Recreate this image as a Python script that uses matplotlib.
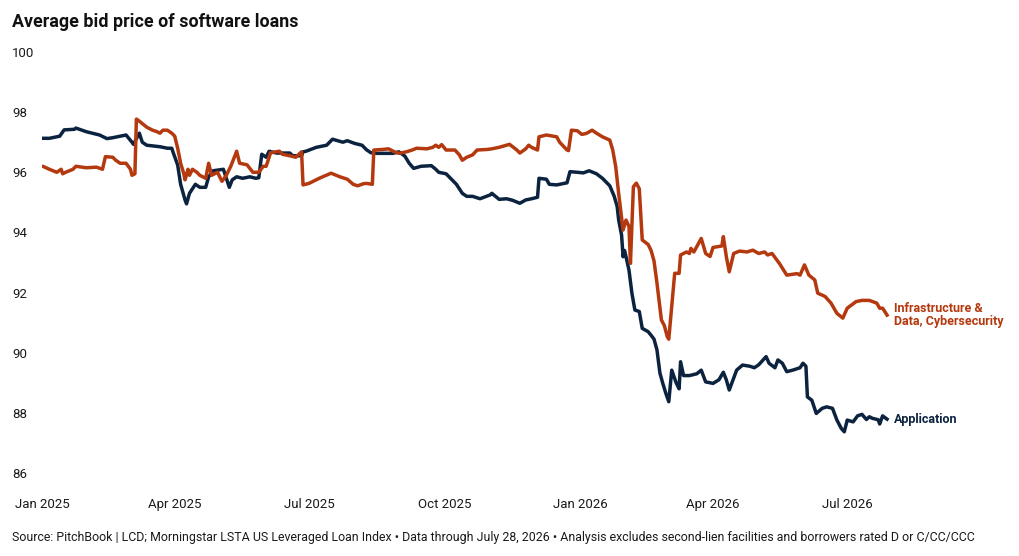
import matplotlib
matplotlib.use("Agg")
import matplotlib.pyplot as plt
import pandas as pd

# ===================
# DATA
# ===================
APP_DATES = [
    "2025-01-02", "2025-01-06", "2025-01-13", "2025-01-16", "2025-01-23", "2025-01-24", "2025-01-31",
    "2025-02-09", "2025-02-14", "2025-02-18", "2025-02-27", "2025-03-03", "2025-03-04", "2025-03-08",
    "2025-03-10", "2025-03-13", "2025-03-22", "2025-03-27", "2025-03-30", "2025-03-31", "2025-04-03",
    "2025-04-05", "2025-04-08", "2025-04-09", "2025-04-11", "2025-04-15", "2025-04-18", "2025-04-22",
    "2025-04-24", "2025-04-27", "2025-05-04", "2025-05-08", "2025-05-10", "2025-05-13", "2025-05-17",
    "2025-05-22", "2025-05-26", "2025-05-28", "2025-05-30", "2025-06-02", "2025-06-04", "2025-06-09",
    "2025-06-18", "2025-06-20", "2025-06-26", "2025-06-27", "2025-06-29", "2025-07-06", "2025-07-13",
    "2025-07-17", "2025-07-24", "2025-07-27", "2025-08-01", "2025-08-06", "2025-08-09", "2025-08-12",
    "2025-08-16", "2025-08-27", "2025-08-31", "2025-09-04", "2025-09-07", "2025-09-10", "2025-09-15",
    "2025-09-22", "2025-09-25", "2025-09-27", "2025-10-02", "2025-10-06", "2025-10-09", "2025-10-13",
    "2025-10-16", "2025-10-20", "2025-10-25", "2025-11-01", "2025-11-02", "2025-11-07", "2025-11-12",
    "2025-11-16", "2025-11-21", "2025-11-25", "2025-11-29", "2025-12-03", "2025-12-04", "2025-12-09",
    "2025-12-11", "2025-12-16", "2025-12-20", "2025-12-23", "2025-12-25", "2025-12-30", "2026-01-03",
    "2026-01-07", "2026-01-12", "2026-01-16", "2026-01-21", "2026-01-24", "2026-01-26", "2026-01-27",
    "2026-01-29", "2026-01-30", "2026-01-31", "2026-02-01", "2026-02-03", "2026-02-05", "2026-02-07",
    "2026-02-10", "2026-02-12", "2026-02-16", "2026-02-18", "2026-02-20", "2026-02-22", "2026-02-24",
    "2026-02-26", "2026-02-28", "2026-03-02", "2026-03-04", "2026-03-07", "2026-03-09", "2026-03-10",
    "2026-03-12", "2026-03-16", "2026-03-21", "2026-03-24", "2026-03-27", "2026-04-01", "2026-04-05",
    "2026-04-08", "2026-04-10", "2026-04-12", "2026-04-17", "2026-04-21", "2026-04-26", "2026-04-29",
    "2026-05-02", "2026-05-07", "2026-05-09", "2026-05-13", "2026-05-15", "2026-05-18", "2026-05-21",
    "2026-05-25", "2026-05-30", "2026-06-01", "2026-06-03", "2026-06-04", "2026-06-07", "2026-06-10",
    "2026-06-14", "2026-06-17", "2026-06-21", "2026-06-24", "2026-06-27", "2026-06-29", "2026-07-01",
    "2026-07-05", "2026-07-08", "2026-07-11", "2026-07-14", "2026-07-16", "2026-07-18", "2026-07-22",
    "2026-07-23", "2026-07-25", "2026-07-28",
]
APP_VALUES = [
    97.13, 97.13, 97.20, 97.41, 97.43, 97.47, 97.35,
    97.24, 97.12, 97.15, 97.24, 97.00, 96.93, 97.30,
    97.00, 96.90, 96.85, 96.80, 96.80, 96.65, 96.24,
    95.60, 95.08, 94.95, 95.30, 95.60, 95.50, 95.50,
    95.85, 96.05, 96.10, 95.50, 95.75, 95.85, 95.80,
    95.85, 95.80, 95.82, 96.60, 96.50, 96.70, 96.64,
    96.64, 96.55, 96.55, 96.68, 96.70, 96.83, 96.90,
    97.10, 97.00, 97.05, 96.96, 96.90, 96.75, 96.65,
    96.63, 96.63, 96.68, 96.54, 96.30, 96.13, 96.20,
    96.22, 96.10, 96.00, 95.95, 95.75, 95.60, 95.30,
    95.20, 95.20, 95.12, 95.25, 95.30, 95.10, 95.12,
    95.07, 94.97, 95.08, 95.12, 95.17, 95.80, 95.77,
    95.60, 95.58, 95.62, 95.65, 96.02, 96.00, 95.98,
    96.05, 95.95, 95.80, 95.55, 95.20, 94.86, 94.42,
    93.91, 93.19, 93.40, 93.19, 92.75, 91.98, 91.42,
    91.37, 90.81, 90.70, 90.58, 90.45, 90.09, 89.32,
    88.97, 88.65, 88.37, 89.42, 89.00, 88.80, 89.70,
    89.24, 89.24, 89.30, 89.42, 89.03, 88.98, 89.10,
    89.35, 89.10, 88.76, 89.42, 89.59, 89.55, 89.50,
    89.60, 89.87, 89.65, 89.50, 89.76, 89.65, 89.37,
    89.42, 89.50, 89.65, 89.55, 88.53, 88.42, 87.98,
    88.15, 88.20, 88.15, 87.76, 87.48, 87.37, 87.76,
    87.70, 87.90, 87.95, 87.78, 87.87, 87.82, 87.77,
    87.63, 87.90, 87.79,
]

INFRA_DATES = [
    "2025-01-02", "2025-01-06", "2025-01-11", "2025-01-14", "2025-01-15", "2025-01-17", "2025-01-22",
    "2025-01-24", "2025-01-31", "2025-02-07", "2025-02-11", "2025-02-13", "2025-02-18", "2025-02-20",
    "2025-02-23", "2025-02-27", "2025-03-02", "2025-03-03", "2025-03-05", "2025-03-06", "2025-03-08",
    "2025-03-13", "2025-03-17", "2025-03-20", "2025-03-22", "2025-03-24", "2025-03-27", "2025-03-30",
    "2025-04-01", "2025-04-03", "2025-04-05", "2025-04-07", "2025-04-08", "2025-04-10", "2025-04-11",
    "2025-04-13", "2025-04-16", "2025-04-18", "2025-04-22", "2025-04-24", "2025-04-26", "2025-04-30",
    "2025-05-03", "2025-05-06", "2025-05-09", "2025-05-13", "2025-05-15", "2025-05-20", "2025-05-24",
    "2025-05-28", "2025-05-31", "2025-06-02", "2025-06-05", "2025-06-11", "2025-06-13", "2025-06-18",
    "2025-06-22", "2025-06-26", "2025-06-27", "2025-07-01", "2025-07-08", "2025-07-16", "2025-07-22",
    "2025-07-27", "2025-07-31", "2025-08-03", "2025-08-07", "2025-08-09", "2025-08-13", "2025-08-14",
    "2025-08-20", "2025-08-24", "2025-08-28", "2025-08-31", "2025-09-05", "2025-09-09", "2025-09-12",
    "2025-09-19", "2025-09-23", "2025-09-25", "2025-09-27", "2025-09-29", "2025-10-02", "2025-10-08",
    "2025-10-11", "2025-10-13", "2025-10-16", "2025-10-20", "2025-10-23", "2025-10-30", "2025-11-02",
    "2025-11-07", "2025-11-14", "2025-11-19", "2025-11-21", "2025-11-25", "2025-11-27", "2025-11-29",
    "2025-12-03", "2025-12-04", "2025-12-09", "2025-12-16", "2025-12-18", "2025-12-23", "2025-12-24",
    "2025-12-26", "2025-12-30", "2026-01-02", "2026-01-05", "2026-01-09", "2026-01-12", "2026-01-16",
    "2026-01-21", "2026-01-23", "2026-01-25", "2026-01-27", "2026-01-30", "2026-02-01", "2026-02-03",
    "2026-02-04", "2026-02-06", "2026-02-08", "2026-02-10", "2026-02-12", "2026-02-16", "2026-02-18",
    "2026-02-20", "2026-02-22", "2026-02-25", "2026-02-27", "2026-03-01", "2026-03-02", "2026-03-04",
    "2026-03-06", "2026-03-09", "2026-03-10", "2026-03-14", "2026-03-16", "2026-03-17", "2026-03-19",
    "2026-03-24", "2026-03-27", "2026-03-30", "2026-04-01", "2026-04-07", "2026-04-08", "2026-04-10",
    "2026-04-12", "2026-04-15", "2026-04-19", "2026-04-24", "2026-04-28", "2026-05-02", "2026-05-06",
    "2026-05-08", "2026-05-11", "2026-05-16", "2026-05-21", "2026-05-28", "2026-05-30", "2026-06-02",
    "2026-06-05", "2026-06-09", "2026-06-11", "2026-06-16", "2026-06-20", "2026-06-24", "2026-06-28",
    "2026-07-01", "2026-07-07", "2026-07-11", "2026-07-16", "2026-07-21", "2026-07-23", "2026-07-25",
    "2026-07-28",
]
INFRA_VALUES = [
    96.19, 96.10, 96.00, 96.10, 95.95, 96.00, 96.10,
    96.20, 96.15, 96.17, 96.10, 96.52, 96.50, 96.40,
    96.30, 96.30, 96.10, 95.90, 95.95, 97.77, 97.70,
    97.50, 97.40, 97.35, 97.30, 97.40, 97.40, 97.30,
    97.20, 96.80, 96.30, 95.98, 95.75, 96.10, 95.90,
    96.10, 96.00, 95.90, 95.80, 96.30, 95.90, 96.00,
    95.70, 95.90, 96.20, 96.70, 96.30, 96.25, 96.00,
    96.00, 96.20, 96.20, 96.65, 96.70, 96.60, 96.55,
    96.50, 96.68, 95.58, 95.63, 95.80, 95.97, 95.85,
    95.77, 95.60, 95.55, 95.62, 95.63, 95.60, 96.74,
    96.76, 96.78, 96.68, 96.63, 96.68, 96.74, 96.80,
    96.78, 96.83, 96.90, 96.83, 96.92, 96.74, 96.74,
    96.58, 96.40, 96.50, 96.58, 96.74, 96.76, 96.78,
    96.83, 96.93, 96.74, 96.64, 96.78, 96.90, 96.83,
    96.74, 97.18, 97.24, 97.18, 97.00, 96.74, 96.72,
    97.40, 97.38, 97.26, 97.29, 97.40, 97.30, 97.18,
    97.07, 96.74, 96.19, 95.30, 94.08, 94.41, 94.20,
    92.97, 95.52, 95.64, 95.45, 93.75, 93.60, 93.40,
    93.05, 92.31, 91.09, 90.90, 90.53, 90.45, 91.53,
    92.64, 92.64, 93.25, 93.35, 93.30, 93.47, 93.35,
    93.80, 93.30, 93.20, 93.50, 93.55, 93.86, 93.20,
    92.69, 93.30, 93.38, 93.35, 93.41, 93.30, 93.35,
    93.25, 93.30, 92.97, 92.58, 92.63, 92.58, 92.92,
    92.58, 92.42, 91.98, 91.87, 91.65, 91.31, 91.15,
    91.48, 91.70, 91.74, 91.74, 91.65, 91.48, 91.48,
    91.25,
]

SERIES_NAMES = ["Application", "Infrastructure &\nData, Cybersecurity"]
Y_TICKS = [86, 88, 90, 92, 94, 96, 98, 100]
X_TICKS = ["2025-01-01", "2025-04-01", "2025-07-01", "2025-10-01",
           "2026-01-01", "2026-04-01", "2026-07-01"]

TITLE = "Average bid price of software loans"
FOOTER = ("Source: PitchBook | LCD; Morningstar LSTA US Leveraged Loan Index \u2022 "
          "Data through July 28, 2026 \u2022 Analysis excludes second-lien facilities "
          "and borrowers rated D or C/CC/CCC")

# ===================
# STYLE
# ===================
NAVY = "#0c2340"
ORANGE = "#b5390f"
TEXT = "#1a1a1a"
FONT = ["Roboto", "DejaVu Sans"]

W, H = 1020, 556

fig = plt.figure(figsize=(W / 100, H / 100), dpi=100)
ax = fig.add_axes([42 / W, 1 - 473 / H, (890 - 42) / W, (473 - 52) / H])

app_x = pd.to_datetime(APP_DATES)
infra_x = pd.to_datetime(INFRA_DATES)

ax.plot(app_x, APP_VALUES, color=NAVY, lw=2.5, solid_joinstyle="round")
ax.plot(infra_x, INFRA_VALUES, color=ORANGE, lw=2.5, solid_joinstyle="round")

ax.set_ylim(86, 100)
ax.set_xlim(pd.Timestamp("2025-01-01"), pd.Timestamp("2026-07-30"))

for s in ax.spines.values():
    s.set_visible(False)

ax.set_yticks(Y_TICKS)
ax.set_yticklabels([str(v) for v in Y_TICKS], family=FONT, fontsize=9.5, color=TEXT, ha="left")
ax.tick_params(axis="y", length=0, pad=30 * 0.72)

xt = pd.to_datetime(X_TICKS)
ax.set_xticks(xt)
ax.set_xticklabels([d.strftime("%b %Y") for d in xt], family=FONT, fontsize=9.5, color=TEXT)
ax.tick_params(axis="x", length=0, pad=25 * 0.72)

# end-of-line labels
ax.annotate(SERIES_NAMES[0], (app_x[-1], APP_VALUES[-1]), xytext=(5, 0),
            textcoords="offset points", va="center", ha="left", color=NAVY,
            family=FONT, fontsize=9, weight="bold", annotation_clip=False)
ax.annotate(SERIES_NAMES[1], (infra_x[-1], INFRA_VALUES[-1]), xytext=(5, 0),
            textcoords="offset points", va="center", ha="left", color=ORANGE,
            family=FONT, fontsize=9, weight="bold", linespacing=1.05,
            annotation_clip=False)

fig.text(12 / W, 1 - 22 / H, TITLE, family=FONT, weight="bold",
         fontsize=12.9, color="#111111", ha="left", va="center")
fig.text(12 / W, 1 - 537 / H, FOOTER, family=FONT, fontsize=8.9, color=TEXT,
         ha="left", va="center")

fig.savefig("out.png", dpi=100, facecolor="white")
